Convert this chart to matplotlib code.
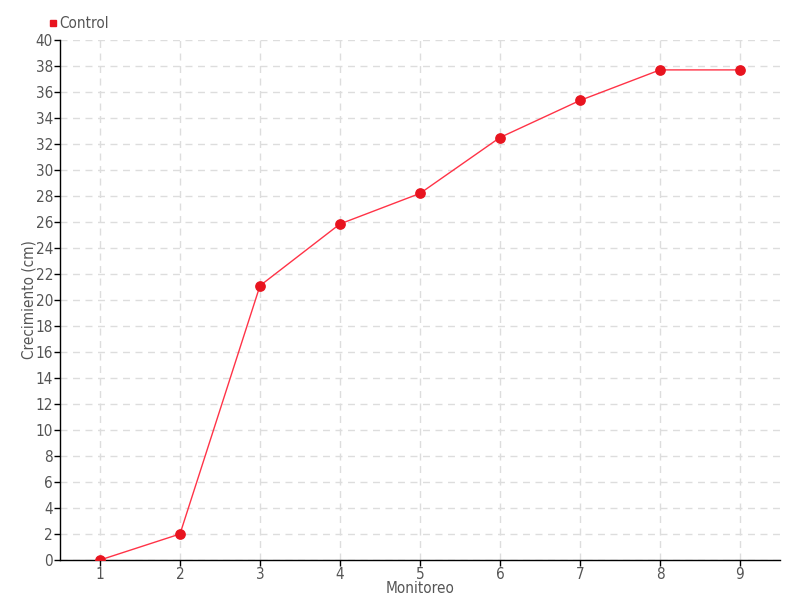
import matplotlib
matplotlib.use("Agg")
import matplotlib.pyplot as plt
from matplotlib.lines import Line2D

plt.rcParams['font.family'] = ['DejaVu Sans']
plt.rcParams['font.stretch'] = 'condensed'

# data
monitoreo = [1, 2, 3, 4, 5, 6, 7, 8, 9]
control = [0, 2, 21.1, 25.85, 28.2, 32.5, 35.35, 37.7, 37.7]
yticks = list(range(0, 41, 2))

fig = plt.figure(figsize=(8, 6), dpi=100)
ax = fig.add_axes([60 / 800, 40 / 600, 720 / 800, 520 / 600])

red = '#e8141f'
ax.plot(monitoreo, control, color='#ff3347', lw=1, zorder=3)
ax.scatter(monitoreo, control, s=45, color=red, zorder=4)

ax.set_xlim(0.5, 9.5)
ax.set_ylim(0, 40)
ax.set_xticks(monitoreo)
ax.set_yticks(yticks)
ax.grid(True, color='#dddddd', ls=(0, (5, 4)), lw=1)
ax.set_axisbelow(True)
for s in ['top', 'right']:
    ax.spines[s].set_visible(False)
for s in ['left', 'bottom']:
    ax.spines[s].set_color('black')
    ax.spines[s].set_linewidth(1)
ax.tick_params(colors='black', labelcolor='#555555', labelsize=11, length=4, width=1, pad=1)

ax.set_xlabel('Monitoreo', fontsize=11, color='#555555', labelpad=-1)
ax.set_ylabel('Crecimiento (cm)', fontsize=11, color='#555555', labelpad=-1)

handle = Line2D([], [], marker='s', ls='none', color=red, markersize=5)
fig.legend([handle], ['Control'], loc='upper left', bbox_to_anchor=(41 / 800, 1 - 10 / 600),
           frameon=False, fontsize=11, handletextpad=0.0, handlelength=0.8,
           labelcolor='#555555', borderaxespad=0)

fig.savefig('out.png', dpi=100)
